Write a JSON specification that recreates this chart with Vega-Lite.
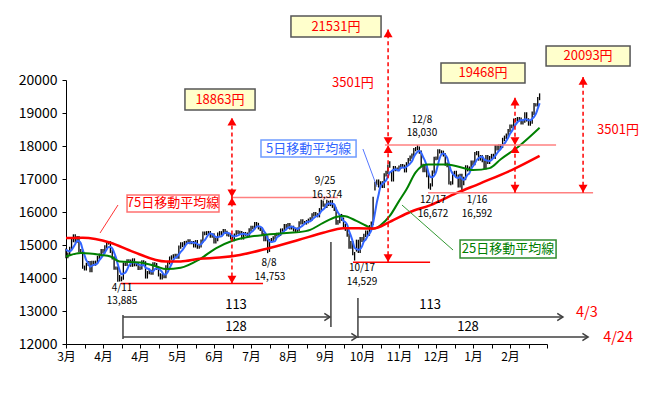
{
"$schema":"https://vega.github.io/schema/vega-lite/v6.json",
"width":481,"height":264,
"autosize":{"type":"none"},
"padding":{"left":66,"top":80,"right":106,"bottom":51},
"background":"white",
"config":{"view":{"stroke":null},"axis":{"domainColor":"#000000","tickColor":"#000000","labelColor":"#000000","labelFont":"Noto Sans CJK JP, sans-serif","grid":false,"tickSize":4,"domainWidth":1,"tickWidth":1,"labelOverlap":false,"labelFlush":false,"labelBound":false},"axisX":{"labelFontSize":12,"labelPadding":3},"axisY":{"labelFontSize":14,"labelPadding":5},"text":{"font":"Noto Sans CJK JP, sans-serif"}},
"datasets":{
"p":[
{"i":0,"h":14891,"l":14602,"m":14862},{"i":1,"h":14771,"l":14602,"m":14822},{"i":2,"h":14947,"l":14671,"m":14807},{"i":3,"h":15184,"l":14847,"m":14849},{"i":4,"h":15324,"l":15084,"m":14936},{"i":5,"h":15324,"l":15070,"m":15029},{"i":6,"h":15274,"l":15070,"m":15130},{"i":7,"h":15274,"l":14780,"m":15116},{"i":8,"h":14880,"l":14765,"m":15053},{"i":9,"h":14865,"l":14277,"m":14863},
{"i":10,"h":14377,"l":14227,"m":14695},{"i":11,"h":14461,"l":14227,"m":14532},{"i":12,"h":14512,"l":14361,"m":14458},{"i":13,"h":14512,"l":14174,"m":14340},{"i":14,"h":14525,"l":14174,"m":14370},{"i":15,"h":14525,"l":14373,"m":14399},{"i":16,"h":14527,"l":14373,"m":14412},{"i":17,"h":14672,"l":14427,"m":14444},{"i":18,"h":14746,"l":14572,"m":14539},{"i":19,"h":14878,"l":14646,"m":14609},
{"i":20,"h":14878,"l":14742,"m":14683},{"i":21,"h":14996,"l":14742,"m":14777},{"i":22,"h":15121,"l":14896,"m":14867},{"i":23,"h":15121,"l":15013,"m":14940},{"i":24,"h":15113,"l":14759,"m":14936},{"i":25,"h":14859,"l":14557,"m":14899},{"i":26,"h":14657,"l":14250,"m":14770},{"i":27,"h":14350,"l":14250,"m":14616},{"i":28,"h":14350,"l":13885,"m":14412},{"i":29,"h":14093,"l":13895,"m":14232},
{"i":30,"h":14047,"l":13900,"m":14110},{"i":31,"h":14468,"l":13947,"m":14134},{"i":32,"h":14468,"l":14367,"m":14157},{"i":33,"h":14566,"l":14367,"m":14252},{"i":34,"h":14566,"l":14462,"m":14372},{"i":35,"h":14562,"l":14338,"m":14450},{"i":36,"h":14596,"l":14338,"m":14476},{"i":37,"h":14596,"l":14354,"m":14473},{"i":38,"h":14479,"l":14354,"m":14456},{"i":39,"h":14479,"l":14239,"m":14411},
{"i":40,"h":14354,"l":14239,"m":14394},{"i":41,"h":14535,"l":14254,"m":14382},{"i":42,"h":14535,"l":14408,"m":14393},{"i":43,"h":14508,"l":13983,"m":14314},{"i":44,"h":14213,"l":13983,"m":14289},{"i":45,"h":14249,"l":14113,"m":14268},{"i":46,"h":14249,"l":14100,"m":14201},{"i":47,"h":14475,"l":14100,"m":14194},{"i":48,"h":14475,"l":14355,"m":14268},{"i":49,"h":14455,"l":14248,"m":14295},
{"i":50,"h":14348,"l":14047,"m":14275},{"i":51,"h":14147,"l":13956,"m":14246},{"i":52,"h":14125,"l":13956,"m":14176},{"i":53,"h":14125,"l":13993,"m":14104},{"i":54,"h":14388,"l":13993,"m":14112},{"i":55,"h":14512,"l":14288,"m":14185},{"i":56,"h":14652,"l":14412,"m":14304},{"i":57,"h":14687,"l":14552,"m":14416},{"i":58,"h":14720,"l":14587,"m":14542},{"i":59,"h":14732,"l":14620,"m":14611},
{"i":60,"h":14732,"l":14582,"m":14645},{"i":61,"h":14985,"l":14582,"m":14711},{"i":62,"h":15085,"l":14885,"m":14791},{"i":63,"h":15085,"l":14935,"m":14854},{"i":64,"h":15120,"l":14935,"m":14931},{"i":65,"h":15127,"l":15020,"m":15020},{"i":66,"h":15174,"l":15027,"m":15058},{"i":67,"h":15174,"l":15019,"m":15065},{"i":68,"h":15120,"l":15019,"m":15082},{"i":69,"h":15120,"l":14924,"m":15063},
{"i":70,"h":15148,"l":14924,"m":15067},{"i":71,"h":15148,"l":14884,"m":15029},{"i":72,"h":15026,"l":14884,"m":15010},{"i":73,"h":15165,"l":14926,"m":15019},{"i":74,"h":15412,"l":15065,"m":15097},{"i":75,"h":15412,"l":15299,"m":15147},{"i":76,"h":15420,"l":15299,"m":15234},{"i":77,"h":15426,"l":15320,"m":15314},{"i":78,"h":15426,"l":15217,"m":15345},{"i":79,"h":15359,"l":15217,"m":15334},
{"i":80,"h":15359,"l":15045,"m":15283},{"i":81,"h":15212,"l":15045,"m":15242},{"i":82,"h":15377,"l":15112,"m":15232},{"i":83,"h":15420,"l":15277,"m":15253},{"i":84,"h":15420,"l":15299,"m":15261},{"i":85,"h":15487,"l":15299,"m":15329},{"i":86,"h":15487,"l":15330,"m":15373},{"i":87,"h":15430,"l":15264,"m":15370},{"i":88,"h":15364,"l":15253,"m":15357},{"i":89,"h":15353,"l":15166,"m":15330},
{"i":90,"h":15266,"l":15114,"m":15275},{"i":91,"h":15347,"l":15114,"m":15259},{"i":92,"h":15446,"l":15247,"m":15275},{"i":93,"h":15446,"l":15330,"m":15291},{"i":94,"h":15430,"l":15321,"m":15322},{"i":95,"h":15421,"l":15165,"m":15332},{"i":96,"h":15394,"l":15165,"m":15341},{"i":97,"h":15394,"l":15279,"m":15328},{"i":98,"h":15379,"l":15235,"m":15309},{"i":99,"h":15508,"l":15235,"m":15326},
{"i":100,"h":15580,"l":15408,"m":15389},{"i":101,"h":15580,"l":15476,"m":15426},{"i":102,"h":15697,"l":15476,"m":15489},{"i":103,"h":15697,"l":15571,"m":15556},{"i":104,"h":15671,"l":15473,"m":15569},{"i":105,"h":15573,"l":15425,"m":15558},{"i":106,"h":15525,"l":15270,"m":15517},{"i":107,"h":15370,"l":15110,"m":15420},{"i":108,"h":15283,"l":15110,"m":15342},{"i":109,"h":15283,"l":14753,"m":15193},
{"i":110,"h":15180,"l":14790,"m":15124},{"i":111,"h":15212,"l":15080,"m":15093},{"i":112,"h":15264,"l":15112,"m":15104},{"i":113,"h":15365,"l":15164,"m":15120},{"i":114,"h":15368,"l":15265,"m":15228},{"i":115,"h":15372,"l":15268,"m":15266},{"i":116,"h":15500,"l":15272,"m":15324},{"i":117,"h":15505,"l":15400,"m":15372},{"i":118,"h":15637,"l":15405,"m":15426},{"i":119,"h":15637,"l":15489,"m":15471},
{"i":120,"h":15664,"l":15489,"m":15529},{"i":121,"h":15664,"l":15472,"m":15543},{"i":122,"h":15585,"l":15472,"m":15559},{"i":123,"h":15585,"l":15410,"m":15534},{"i":124,"h":15510,"l":15375,"m":15511},{"i":125,"h":15527,"l":15375,"m":15484},{"i":126,"h":15719,"l":15427,"m":15513},{"i":127,"h":15779,"l":15619,"m":15552},{"i":128,"h":15779,"l":15627,"m":15595},{"i":129,"h":15727,"l":15619,"m":15644},
{"i":130,"h":15756,"l":15619,"m":15690},{"i":131,"h":15800,"l":15656,"m":15706},{"i":132,"h":15839,"l":15700,"m":15718},{"i":133,"h":15960,"l":15739,"m":15765},{"i":134,"h":15999,"l":15860,"m":15821},{"i":135,"h":15999,"l":15862,"m":15862},{"i":136,"h":15962,"l":15838,"m":15890},{"i":137,"h":16118,"l":15838,"m":15945},{"i":138,"h":16371,"l":16018,"m":16028},{"i":139,"h":16350,"l":16156,"m":16079},
{"i":140,"h":16256,"l":16118,"m":16130},{"i":141,"h":16374,"l":16118,"m":16227},{"i":142,"h":16340,"l":16179,"m":16260},{"i":143,"h":16361,"l":16179,"m":16258},{"i":144,"h":16361,"l":16124,"m":16251},{"i":145,"h":16224,"l":16033,"m":16234},{"i":146,"h":16133,"l":15611,"m":16092},{"i":147,"h":15759,"l":15611,"m":15988},{"i":148,"h":15941,"l":15659,"m":15904},{"i":149,"h":15941,"l":15734,"m":15826},
{"i":150,"h":15834,"l":15545,"m":15728},{"i":151,"h":15645,"l":15429,"m":15692},{"i":152,"h":15529,"l":15250,"m":15610},{"i":153,"h":15350,"l":14887,"m":15419},{"i":154,"h":15124,"l":14887,"m":15277},{"i":155,"h":15124,"l":14689,"m":15106},{"i":156,"h":14789,"l":14529,"m":14917},{"i":157,"h":15162,"l":14800,"m":14879},{"i":158,"h":15162,"l":14755,"m":14853},{"i":159,"h":15246,"l":14755,"m":14877},
{"i":160,"h":15246,"l":15089,"m":14957},{"i":161,"h":15342,"l":15089,"m":15109},{"i":162,"h":15439,"l":15242,"m":15164},{"i":163,"h":15439,"l":15280,"m":15269},{"i":164,"h":15604,"l":15280,"m":15341},{"i":165,"h":15709,"l":15504,"m":15445},{"i":166,"h":16464,"l":15609,"m":15669},{"i":167,"h":16913,"l":16650,"m":15964},{"i":168,"h":16987,"l":16813,"m":16285},{"i":169,"h":16987,"l":16743,"m":16533},
{"i":170,"h":16931,"l":16743,"m":16778},{"i":171,"h":16931,"l":16731,"m":16851},{"i":172,"h":17175,"l":16731,"m":16903},{"i":173,"h":17248,"l":17075,"m":16956},{"i":174,"h":17442,"l":17148,"m":17075},{"i":175,"h":17540,"l":17342,"m":17197},{"i":176,"h":17250,"l":16924,"m":17236},{"i":177,"h":17395,"l":16924,"m":17280},{"i":178,"h":17395,"l":17238,"m":17298},{"i":179,"h":17351,"l":17238,"m":17280},
{"i":180,"h":17408,"l":17251,"m":17253},{"i":181,"h":17458,"l":17308,"m":17340},{"i":182,"h":17458,"l":17334,"m":17348},{"i":183,"h":17434,"l":17199,"m":17340},{"i":184,"h":17510,"l":17199,"m":17372},{"i":185,"h":17640,"l":17410,"m":17418},{"i":186,"h":17714,"l":17540,"m":17469},{"i":187,"h":17771,"l":17614,"m":17537},{"i":188,"h":17938,"l":17671,"m":17665},{"i":189,"h":17971,"l":17838,"m":17757},
{"i":190,"h":18030,"l":17871,"m":17826},{"i":191,"h":17986,"l":17764,"m":17856},{"i":192,"h":17864,"l":17363,"m":17794},{"i":193,"h":17463,"l":17208,"m":17668},{"i":194,"h":17421,"l":17208,"m":17558},{"i":195,"h":17421,"l":17050,"m":17391},{"i":196,"h":17150,"l":16706,"m":17180},{"i":197,"h":16870,"l":16672,"m":17061},{"i":198,"h":17261,"l":16770,"m":17052},{"i":199,"h":17671,"l":17161,"m":17102},
{"i":200,"h":17685,"l":17571,"m":17209},{"i":201,"h":17905,"l":17585,"m":17428},{"i":202,"h":17905,"l":17769,"m":17628},{"i":203,"h":17869,"l":17759,"m":17748},{"i":204,"h":17859,"l":17680,"m":17770},{"i":205,"h":17780,"l":17401,"m":17733},{"i":206,"h":17501,"l":17359,"m":17644},{"i":207,"h":17459,"l":16834,"m":17457},{"i":208,"h":16935,"l":16808,"m":17272},{"i":209,"h":17218,"l":16835,"m":17159},
{"i":210,"h":17248,"l":17118,"m":17109},{"i":211,"h":17248,"l":17038,"m":17045},{"i":212,"h":17138,"l":16746,"m":17027},{"i":213,"h":17159,"l":16746,"m":17072},{"i":214,"h":17159,"l":16592,"m":17011},{"i":215,"h":17065,"l":16814,"m":16974},{"i":216,"h":17416,"l":16965,"m":17030},{"i":217,"h":17416,"l":17230,"m":17127},{"i":218,"h":17380,"l":17230,"m":17171},{"i":219,"h":17562,"l":17280,"m":17301},
{"i":220,"h":17562,"l":17419,"m":17391},{"i":221,"h":17819,"l":17419,"m":17472},{"i":222,"h":17846,"l":17719,"m":17575},{"i":223,"h":17846,"l":17557,"m":17631},{"i":224,"h":17724,"l":17557,"m":17663},{"i":225,"h":17724,"l":17508,"m":17681},{"i":226,"h":17608,"l":17286,"m":17594},{"i":227,"h":17728,"l":17286,"m":17571},{"i":228,"h":17728,"l":17455,"m":17550},{"i":229,"h":17699,"l":17455,"m":17545},
{"i":230,"h":17762,"l":17599,"m":17576},{"i":231,"h":17762,"l":17603,"m":17639},{"i":232,"h":18029,"l":17603,"m":17700},{"i":233,"h":18029,"l":17863,"m":17781},{"i":234,"h":18055,"l":17863,"m":17852},{"i":235,"h":18055,"l":17938,"m":17908},{"i":236,"h":18249,"l":17938,"m":18017},{"i":237,"h":18315,"l":18149,"m":18074},{"i":238,"h":18382,"l":18215,"m":18158},{"i":239,"h":18517,"l":18282,"m":18250},
{"i":240,"h":18654,"l":18417,"m":18373},{"i":241,"h":18654,"l":18535,"m":18451},{"i":242,"h":18836,"l":18535,"m":18555},{"i":243,"h":18848,"l":18736,"m":18648},{"i":244,"h":18877,"l":18748,"m":18720},{"i":245,"h":18877,"l":18766,"m":18762},{"i":246,"h":18866,"l":18654,"m":18786},{"i":247,"h":18802,"l":18654,"m":18779},{"i":248,"h":19022,"l":18702,"m":18814},{"i":249,"h":19022,"l":18740,"m":18807},
{"i":250,"h":18840,"l":18616,"m":18777},{"i":251,"h":18773,"l":18616,"m":18781},{"i":252,"h":19042,"l":18673,"m":18829},{"i":253,"h":19305,"l":18942,"m":18885},{"i":254,"h":19297,"l":19197,"m":18977},{"i":255,"h":19488,"l":19197,"m":19131},{"i":256,"h":19595,"l":19388,"m":19295}
],
"m25":[{"i":0,"v":14650},{"i":8,"v":14760},{"i":19,"v":14700},{"i":24,"v":14650},{"i":29,"v":14500},{"i":40,"v":14470},{"i":49,"v":14350},{"i":54,"v":14270},{"i":62,"v":14310},{"i":72,"v":14560},{"i":81,"v":14900},{"i":90,"v":15130},{"i":99,"v":15250},{"i":108,"v":15310},{"i":121,"v":15370},{"i":126,"v":15390},{"i":132,"v":15460},{"i":139,"v":15670},{"i":146,"v":15850},{"i":150,"v":15880},{"i":157,"v":15730},{"i":162,"v":15590},{"i":166,"v":15490},{"i":170,"v":15600},{"i":175,"v":15880},{"i":180,"v":16330},{"i":184,"v":16680},{"i":189,"v":17200},{"i":195,"v":17440},{"i":206,"v":17440},{"i":217,"v":17300},{"i":220,"v":17270},{"i":229,"v":17330},{"i":235,"v":17600},{"i":245,"v":18000},{"i":256,"v":18550}],
"m75":[{"i":0,"v":15210},{"i":9,"v":15220},{"i":24,"v":15070},{"i":36,"v":14800},{"i":54,"v":14500},{"i":62,"v":14500},{"i":72,"v":14580},{"i":83,"v":14620},{"i":94,"v":14700},{"i":108,"v":14880},{"i":126,"v":15160},{"i":139,"v":15370},{"i":150,"v":15510},{"i":166,"v":15500},{"i":175,"v":15700},{"i":186,"v":16000},{"i":197,"v":16210},{"i":211,"v":16570},{"i":224,"v":16870},{"i":242,"v":17300},{"i":256,"v":17700}],
"hl":[{"a":29.7,"b":106.5,"v":13830,"k":"r"},{"a":89.2,"b":147,"v":16440,"k":"p"},{"a":155.1,"b":196.8,"v":14480,"k":"r"},{"a":172.4,"b":264.9,"v":18030,"k":"p"},{"a":195.7,"b":284.9,"v":16585,"k":"p"}],
"va":[{"x":89.7,"a":13830,"b":18863},{"x":174.1,"a":14480,"b":21531},{"x":242.7,"a":16585,"b":19468},{"x":279.5,"a":16585,"b":20093}],
"tri":[{"x":89.7,"v":18863,"d":"u"},{"x":89.7,"v":16440,"d":"u"},{"x":174.1,"v":21531,"d":"u"},{"x":174.1,"v":18030,"d":"u"},{"x":242.7,"v":19468,"d":"u"},{"x":242.7,"v":18030,"d":"u"},{"x":279.5,"v":20093,"d":"u"},
{"x":89.7,"v":16440,"d":"d"},{"x":89.7,"v":13830,"d":"d"},{"x":174.1,"v":18030,"d":"d"},{"x":174.1,"v":14480,"d":"d"},{"x":242.7,"v":18030,"d":"d"},{"x":242.7,"v":16585,"d":"d"},{"x":279.5,"v":16585,"d":"d"}],
"yb":[{"x1":121.6,"x2":170.3,"y1":21939,"y2":21303,"t":"21531円","tx":145.9,"ty":21621},{"x1":64.3,"x2":102.2,"y1":19727,"y2":19091,"t":"18863円","tx":83.2,"ty":19409},{"x1":202.7,"x2":248.1,"y1":20515,"y2":19909,"t":"19468円","tx":225.4,"ty":20212},{"x1":259.5,"x2":304.9,"y1":21030,"y2":20424,"t":"20093円","tx":282.2,"ty":20727}],
"mb":[{"x1":33,"x2":82.7,"y1":16515,"y2":16000,"t":"75日移動平均線","k":"r","tx":57.8,"ty":16258},{"x1":105.4,"x2":156.8,"y1":18182,"y2":17667,"t":"5日移動平均線","k":"b","tx":131.1,"ty":17924},{"x1":213,"x2":264.9,"y1":15152,"y2":14606,"t":"25日移動平均線","k":"g","tx":238.9,"ty":14879}],
"ld":[{"x1":18.4,"y1":15364,"x2":28.1,"y2":16212,"k":"r"},{"x1":160.5,"y1":17909,"x2":168.1,"y2":16758,"k":"b"},{"x1":181.6,"y1":16212,"x2":209.2,"y2":14848,"k":"g"}],
"gl":[{"x1":30.8,"y1":12879,"x2":30.8,"y2":12152},{"x1":30.8,"y1":12818,"x2":142.7,"y2":12818},{"x1":30.8,"y1":12212,"x2":157.3,"y2":12212},{"x1":143.2,"y1":15091,"x2":143.2,"y2":12515},{"x1":157.8,"y1":13394,"x2":157.8,"y2":12182},{"x1":157.8,"y1":12818,"x2":268.6,"y2":12818},{"x1":157.8,"y1":12212,"x2":282.2,"y2":12212}],
"chev":[{"x":142.7,"y":12818},{"x":157.3,"y":12212},{"x":268.6,"y":12818},{"x":282.2,"y":12212}],
"tx":[{"x":30.3,"y":13712,"t":"4/11","g":"lab"},{"x":30.3,"y":13288,"t":"13,885","g":"lab"},{"x":109.7,"y":14454,"t":"8/8","g":"lab"},{"x":110.3,"y":14030,"t":"14,753","g":"lab"},{"x":140,"y":16954,"t":"9/25","g":"lab"},{"x":141.1,"y":16530,"t":"16,374","g":"lab"},{"x":160,"y":14288,"t":"10/17","g":"lab"},{"x":160,"y":13864,"t":"14,529","g":"lab"},{"x":192.4,"y":18803,"t":"12/8","g":"lab"},{"x":192.4,"y":18379,"t":"18,030","g":"lab"},{"x":198.4,"y":16363,"t":"12/17","g":"lab"},{"x":198.4,"y":15939,"t":"16,672","g":"lab"},{"x":222.2,"y":16363,"t":"1/16","g":"lab"},{"x":222.2,"y":15939,"t":"16,592","g":"lab"},
{"x":155.1,"y":19909,"t":"3501円","g":"r13"},{"x":298.4,"y":18485,"t":"3501円","g":"r13"},
{"x":281.6,"y":12939,"t":"4/3","g":"r14"},{"x":298.4,"y":12182,"t":"4/24","g":"r14"},
{"x":91.9,"y":13182,"t":"113","g":"n"},{"x":91.9,"y":12515,"t":"128","g":"n"},{"x":196.8,"y":13182,"t":"113","g":"n"},{"x":217.3,"y":12515,"t":"128","g":"n"}]
},
"resolve":{"scale":{"color":"independent","stroke":"independent"}},
"layer":[
{"data":{"name":"p"},"mark":{"type":"rule","color":"#000000","strokeWidth":1.3},
 "encoding":{"x":{"field":"i","type":"quantitative","scale":{"domain":[0,260],"nice":false,"zero":false},"axis":{"title":null,"values":[0,10,20,30,40,50,60,70,80,90,100,110,120,130,140,150,160,170,180,190,200,210,220,230,240,250,260],"tickCount":100,"labelExpr":"datum.value % 20 == 0 && datum.value < 260 ? ['3月','4月','4月','5月','6月','7月','8月','9月','10月','11月','12月','1月','2月'][datum.value / 20] : ''","labelOverlap":false,"labelFlush":false}},
 "y":{"field":"l","type":"quantitative","scale":{"domain":[12000,20000],"nice":false,"zero":false},"axis":{"title":null,"values":[12000,13000,14000,15000,16000,17000,18000,19000,20000],"tickCount":100,"format":"d","labelOverlap":false,"labelFlush":false}},
 "y2":{"field":"h"}}},
{"data":{"name":"p"},"mark":{"type":"line","color":"#3366ff","strokeWidth":2,"interpolate":"monotone"},
 "encoding":{"x":{"field":"i","type":"quantitative","scale":{"domain":[0,260],"nice":false,"zero":false}},"y":{"field":"m","type":"quantitative","scale":{"domain":[12000,20000],"nice":false,"zero":false}}}},
{"data":{"name":"m25"},"mark":{"type":"line","color":"#008000","strokeWidth":2,"interpolate":"monotone"},
 "encoding":{"x":{"field":"i","type":"quantitative","scale":{"domain":[0,260],"nice":false,"zero":false}},"y":{"field":"v","type":"quantitative","scale":{"domain":[12000,20000],"nice":false,"zero":false}}}},
{"data":{"name":"m75"},"mark":{"type":"line","color":"#ff0000","strokeWidth":2.5,"interpolate":"monotone"},
 "encoding":{"x":{"field":"i","type":"quantitative","scale":{"domain":[0,260],"nice":false,"zero":false}},"y":{"field":"v","type":"quantitative","scale":{"domain":[12000,20000],"nice":false,"zero":false}}}},
{"data":{"name":"hl"},"mark":{"type":"rule","strokeWidth":1.5},
 "encoding":{"x":{"field":"a","type":"quantitative","scale":{"domain":[0,260],"nice":false,"zero":false}},"x2":{"field":"b"},"y":{"field":"v","type":"quantitative","scale":{"domain":[12000,20000],"nice":false,"zero":false}},
 "color":{"field":"k","type":"nominal","scale":{"domain":["r","p"],"range":["#ff0000","#ff8080"]},"legend":null}}},
{"data":{"name":"va"},"mark":{"type":"rule","color":"#ff0000","strokeWidth":1.5,"strokeDash":[4,3]},
 "encoding":{"x":{"field":"x","type":"quantitative","scale":{"domain":[0,260],"nice":false,"zero":false}},"y":{"field":"a","type":"quantitative","scale":{"domain":[12000,20000],"nice":false,"zero":false}},"y2":{"field":"b"}}},
{"data":{"name":"tri"},"transform":[{"filter":"datum.d == 'u'"}],"mark":{"type":"point","shape":"triangle-up","filled":true,"color":"#ff0000","opacity":1,"size":80,"yOffset":4},
 "encoding":{"x":{"field":"x","type":"quantitative","scale":{"domain":[0,260],"nice":false,"zero":false}},"y":{"field":"v","type":"quantitative","scale":{"domain":[12000,20000],"nice":false,"zero":false}}}},
{"data":{"name":"tri"},"transform":[{"filter":"datum.d == 'd'"}],"mark":{"type":"point","shape":"triangle-down","filled":true,"color":"#ff0000","opacity":1,"size":80,"yOffset":-4},
 "encoding":{"x":{"field":"x","type":"quantitative","scale":{"domain":[0,260],"nice":false,"zero":false}},"y":{"field":"v","type":"quantitative","scale":{"domain":[12000,20000],"nice":false,"zero":false}}}},
{"data":{"name":"yb"},"mark":{"type":"rect","fill":"#ffffcc","stroke":"#555555","strokeWidth":1.5},
 "encoding":{"x":{"field":"x1","type":"quantitative","scale":{"domain":[0,260],"nice":false,"zero":false}},"x2":{"field":"x2"},"y":{"field":"y1","type":"quantitative","scale":{"domain":[12000,20000],"nice":false,"zero":false}},"y2":{"field":"y2"}}},
{"data":{"name":"yb"},"mark":{"type":"text","color":"#ff0000","fontSize":13,"align":"center","baseline":"middle","font":"Noto Sans CJK JP, sans-serif"},
 "encoding":{"x":{"field":"tx","type":"quantitative","scale":{"domain":[0,260],"nice":false,"zero":false}},"y":{"field":"ty","type":"quantitative","scale":{"domain":[12000,20000],"nice":false,"zero":false}},"text":{"field":"t"}}},
{"data":{"name":"ld"},"mark":{"type":"rule","strokeWidth":1},
 "encoding":{"x":{"field":"x1","type":"quantitative","scale":{"domain":[0,260],"nice":false,"zero":false}},"x2":{"field":"x2"},"y":{"field":"y1","type":"quantitative","scale":{"domain":[12000,20000],"nice":false,"zero":false}},"y2":{"field":"y2"},
 "color":{"field":"k","type":"nominal","scale":{"domain":["r","b","g"],"range":["#ff3333","#5577ff","#339933"]},"legend":null}}},
{"data":{"name":"mb"},"mark":{"type":"rect","fill":"#ffffff","strokeWidth":1.5},
 "encoding":{"x":{"field":"x1","type":"quantitative","scale":{"domain":[0,260],"nice":false,"zero":false}},"x2":{"field":"x2"},"y":{"field":"y1","type":"quantitative","scale":{"domain":[12000,20000],"nice":false,"zero":false}},"y2":{"field":"y2"},
 "stroke":{"field":"k","type":"nominal","scale":{"domain":["r","b","g"],"range":["#ff7070","#6f9cff","#2e8b2e"]},"legend":null}}},
{"data":{"name":"mb"},"mark":{"type":"text","fontSize":13,"align":"center","baseline":"middle","font":"Noto Sans CJK JP, sans-serif"},
 "encoding":{"x":{"field":"tx","type":"quantitative","scale":{"domain":[0,260],"nice":false,"zero":false}},"y":{"field":"ty","type":"quantitative","scale":{"domain":[12000,20000],"nice":false,"zero":false}},"text":{"field":"t"},
 "color":{"field":"k","type":"nominal","scale":{"domain":["r","b","g"],"range":["#ff0000","#3366ff","#008000"]},"legend":null}}},
{"data":{"name":"gl"},"mark":{"type":"rule","color":"#404040","strokeWidth":1.5},
 "encoding":{"x":{"field":"x1","type":"quantitative","scale":{"domain":[0,260],"nice":false,"zero":false}},"x2":{"field":"x2"},"y":{"field":"y1","type":"quantitative","scale":{"domain":[12000,20000],"nice":false,"zero":false}},"y2":{"field":"y2"}}},
{"data":{"name":"chev"},"mark":{"type":"point","shape":"M-1.6,-1L0,0L-1.6,1","filled":false,"stroke":"#404040","strokeWidth":1.5,"opacity":1,"size":50},
 "encoding":{"x":{"field":"x","type":"quantitative","scale":{"domain":[0,260],"nice":false,"zero":false}},"y":{"field":"y","type":"quantitative","scale":{"domain":[12000,20000],"nice":false,"zero":false}}}},
{"data":{"name":"tx"},"transform":[{"filter":"datum.g == 'lab'"}],"mark":{"type":"text","color":"#000000","fontSize":10,"align":"center","baseline":"middle","font":"Noto Sans CJK JP, sans-serif"},
 "encoding":{"x":{"field":"x","type":"quantitative","scale":{"domain":[0,260],"nice":false,"zero":false}},"y":{"field":"y","type":"quantitative","scale":{"domain":[12000,20000],"nice":false,"zero":false}},"text":{"field":"t"}}},
{"data":{"name":"tx"},"transform":[{"filter":"datum.g == 'r13'"}],"mark":{"type":"text","color":"#ff0000","fontSize":13,"align":"center","baseline":"middle","font":"Noto Sans CJK JP, sans-serif"},
 "encoding":{"x":{"field":"x","type":"quantitative","scale":{"domain":[0,260],"nice":false,"zero":false}},"y":{"field":"y","type":"quantitative","scale":{"domain":[12000,20000],"nice":false,"zero":false}},"text":{"field":"t"}}},
{"data":{"name":"tx"},"transform":[{"filter":"datum.g == 'r14'"}],"mark":{"type":"text","color":"#ff0000","fontSize":14.5,"align":"center","baseline":"middle","font":"Noto Sans CJK JP, sans-serif"},
 "encoding":{"x":{"field":"x","type":"quantitative","scale":{"domain":[0,260],"nice":false,"zero":false}},"y":{"field":"y","type":"quantitative","scale":{"domain":[12000,20000],"nice":false,"zero":false}},"text":{"field":"t"}}},
{"data":{"name":"tx"},"transform":[{"filter":"datum.g == 'n'"}],"mark":{"type":"text","color":"#000000","fontSize":13,"align":"center","baseline":"middle","font":"Noto Sans CJK JP, sans-serif"},
 "encoding":{"x":{"field":"x","type":"quantitative","scale":{"domain":[0,260],"nice":false,"zero":false}},"y":{"field":"y","type":"quantitative","scale":{"domain":[12000,20000],"nice":false,"zero":false}},"text":{"field":"t"}}}
]
}
